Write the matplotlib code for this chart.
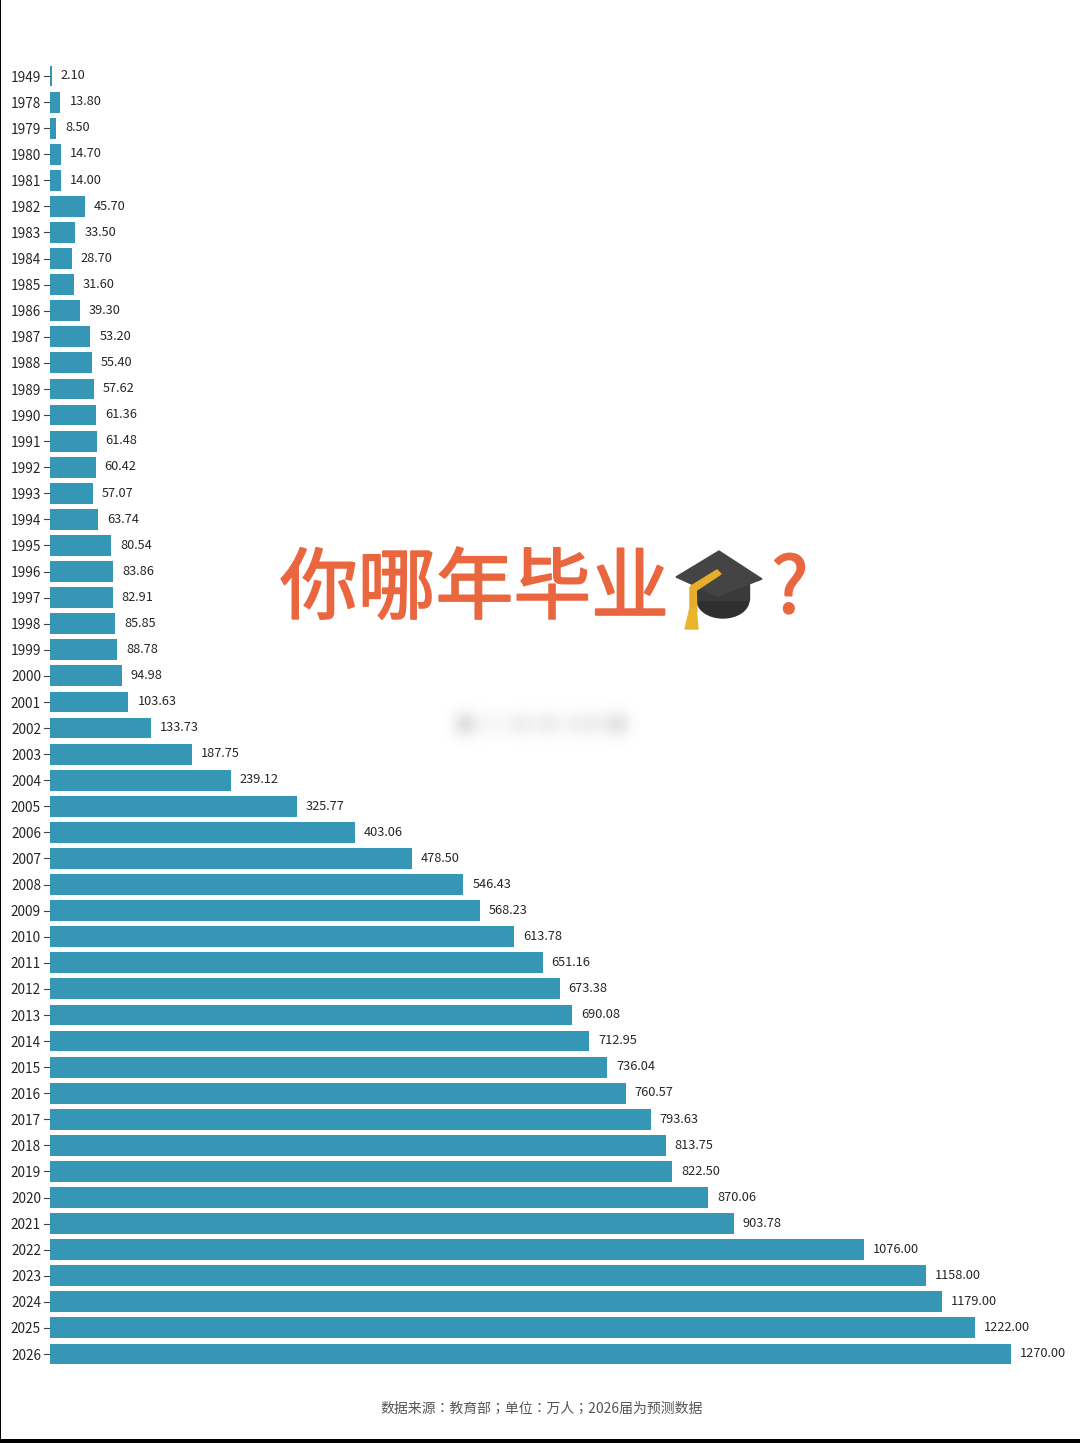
import matplotlib
matplotlib.use("Agg")
import matplotlib.pyplot as plt
import matplotlib.patheffects as pe
import numpy as np
from matplotlib.patches import Polygon, Rectangle, Ellipse

plt.rcParams['font.family'] = ['Noto Sans CJK SC', 'DejaVu Sans']

years = [1949] + list(range(1978, 2027))
graduates = [2.10, 13.80, 8.50, 14.70, 14.00, 45.70, 33.50, 28.70, 31.60, 39.30,
             53.20, 55.40, 57.62, 61.36, 61.48, 60.42, 57.07, 63.74, 80.54, 83.86,
             82.91, 85.85, 88.78, 94.98, 103.63, 133.73, 187.75, 239.12, 325.77, 403.06,
             478.50, 546.43, 568.23, 613.78, 651.16, 673.38, 690.08, 712.95, 736.04, 760.57,
             793.63, 813.75, 822.50, 870.06, 903.78, 1076.00, 1158.00, 1179.00, 1222.00, 1270.00]

title_text = '你哪年毕业'
source_text = '数据来源：教育部；单位：万人；2026届为预测数据'

W, H = 1080, 1443
BAR = '#3596b6'
TEXT = '#262626'
ORANGE = '#e9663f'

px_per_unit = (1011 - 50) / 1270
row_step = (1354 - 76) / 49

fig = plt.figure(figsize=(W / 100, H / 100), dpi=100, facecolor='white')
ax = fig.add_axes([0, 0, 1, 1])
ax.set_xlim(-50 / px_per_unit, (W - 50) / px_per_unit)
ax.set_ylim((H - 76) / row_step, -76 / row_step)

rows = list(range(len(years)))
ax.barh(rows, graduates, height=0.8, color=BAR, linewidth=0)
for r, v in zip(rows, graduates):
    ax.text(v + 9 / px_per_unit, r - 0.01, f'{v:.2f}', va='center', ha='left', fontsize=9.2, color=TEXT)

ax.set_xticks([])
ax.set_yticks([])
ax.patch.set_alpha(0)
for s in ax.spines.values():
    s.set_visible(False)
for r, y in zip(rows, years):
    ax.plot([-6 / px_per_unit, -1 / px_per_unit], [r, r], color='#444444', lw=0.8)
    ax.text(-9 / px_per_unit, r + 0.06, str(y), ha='right', va='center', fontsize=9.8, color=TEXT)

# overlay in pixel coordinates for headline, hat, watermark and frame
ov = fig.add_axes([0, 0, 1, 1])
ov.axis('off')
ov.patch.set_alpha(0)

# blurred-out watermark
smear = np.array([0.42, 0.06, 0.10, 0.05, 0.20, 0.08, 0.20, 0.06, 0.16, 0.16, 0.14, 0.34])
rgba = np.zeros((3, smear.size + 2, 4))
rgba[..., :3] = 0.4
rgba[1, 1:-1, 3] = smear
ov.imshow(rgba, extent=(444, 640, 746, 702), aspect='auto', interpolation='bicubic', zorder=1)

ov.set_xlim(0, W)
ov.set_ylim(H, 0)

# regular weight is too thin and bold too heavy, so thicken the regular one
thicker = [pe.withStroke(linewidth=1.3, foreground=ORANGE)]
ov.text(280, 591, title_text, family=['Noto Sans CJK SC'], fontsize=56,
        color=ORANGE, ha='left', va='center', path_effects=thicker)
ov.text(790, 591, '?', family=['Noto Sans CJK SC'], fontsize=56,
        color=ORANGE, ha='center', va='center', path_effects=thicker)

# graduation cap
ov.add_patch(Ellipse((723, 600), 52, 36, color='#2f2f2f', zorder=3))
ov.add_patch(Rectangle((697, 582), 52, 18, color='#3a3a3a', zorder=3))
ov.add_patch(Polygon([[676, 577], [719, 551], [762, 579], [718, 596]], color='#444444', zorder=4))
ov.add_patch(Polygon([[717, 570], [721, 574], [697, 590], [691, 586]], color='#e7ad2a', zorder=5))
ov.add_patch(Polygon([[690, 587], [696, 587], [697, 612], [690, 612]], color='#e7ad2a', zorder=5))
ov.add_patch(Polygon([[690, 608], [696, 608], [698, 629], [685, 629]], color='#eab52c', zorder=5))

ov.text(542, 1409, source_text, family=['Noto Sans CJK TC'], fontsize=10, color='#555555',
        ha='center', va='center')

# black photo border
ov.add_patch(Rectangle((0, 1439), W, 4, color='black', lw=0))
ov.add_patch(Rectangle((0, 0), 1.2, H, color='black', lw=0))

fig.savefig('out.png', dpi=100)
